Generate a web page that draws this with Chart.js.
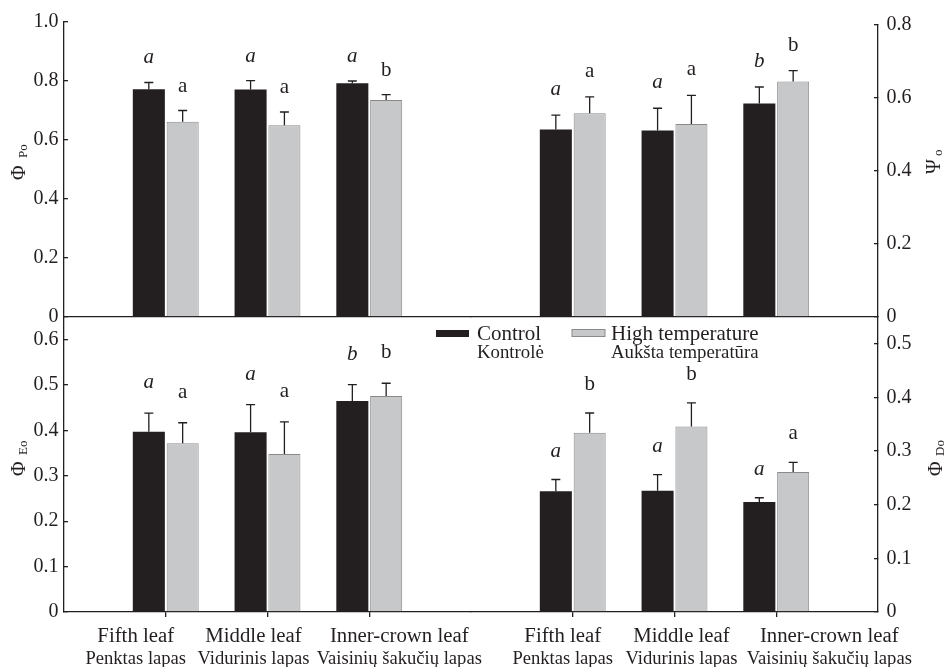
<!DOCTYPE html>
<html>
<head>
<meta charset="utf-8">
<script src="https://cdn.jsdelivr.net/npm/chart.js@4.4.1/dist/chart.umd.min.js"></script>
<style>
  body { margin: 0; background: #fff; }
  #wrap { position: relative; width: 947px; height: 667px; }
  #wrap canvas { position: absolute; left: 0; top: 0; }
</style>
</head>
<body>
<div id="wrap">
  <canvas id="cTL" width="947" height="667"></canvas>
  <canvas id="cTR" width="947" height="667"></canvas>
  <canvas id="cBL" width="947" height="667"></canvas>
  <canvas id="cBR" width="947" height="667"></canvas>
</div>
<script>
const categories = ['Fifth leaf', 'Middle leaf', 'Inner-crown leaf'];
const categoriesLt = ['Penktas lapas', 'Vidurinis lapas', 'Vaisinių šakučių lapas'];
const seriesNames = ['Control', 'High temperature'];
const seriesNamesLt = ['Kontrolė', 'Aukšta temperatūra'];

// Φ Po
const phiPoControl = [0.772, 0.771, 0.792];
const phiPoControlSd = [0.023, 0.030, 0.008];
const phiPoHeat = [0.662, 0.650, 0.736];
const phiPoHeatSd = [0.038, 0.045, 0.018];
const phiPoLetters = [['a', 'a', 'a'], ['a', 'a', 'b']];
const phiPoTicks = [0, 0.2, 0.4, 0.6, 0.8, 1.0];

// Ψo
const psiControl = [0.513, 0.510, 0.584];
const psiControlSd = [0.039, 0.061, 0.045];
const psiHeat = [0.557, 0.528, 0.644];
const psiHeatSd = [0.045, 0.078, 0.030];
const psiLetters = [['a', 'a', 'b'], ['a', 'a', 'b']];
const psiTicks = [0, 0.2, 0.4, 0.6, 0.8];

// Φ Eo
const phiEoControl = [0.397, 0.396, 0.465];
const phiEoControlSd = [0.041, 0.061, 0.036];
const phiEoHeat = [0.372, 0.348, 0.476];
const phiEoHeatSd = [0.045, 0.071, 0.028];
const phiEoLetters = [['a', 'a', 'b'], ['a', 'a', 'b']];
const phiEoTicks = [0, 0.1, 0.2, 0.3, 0.4, 0.5, 0.6];

// Φ Do
const phiDoControl = [0.225, 0.226, 0.205];
const phiDoControlSd = [0.022, 0.030, 0.008];
const phiDoHeat = [0.334, 0.346, 0.261];
const phiDoHeatSd = [0.037, 0.044, 0.018];
const phiDoLetters = [['a', 'a', 'a'], ['b', 'b', 'a']];
const phiDoTicks = [0, 0.1, 0.2, 0.3, 0.4, 0.5];

const W = 947, H = 667;
const AXIS_W = 50;
const SERIF = '"Liberation Serif", "Times New Roman", serif';
const INK = '#231f20';
const GREY = '#c7c8ca';
const GREY_EDGE = '#8a8a8a';

const panels = [
  { id: 'cTL', area: [64, 22, 471, 317], side: 'left', max: 1.0, ticks: phiPoTicks,
    values: [phiPoControl, phiPoHeat], sd: [phiPoControlSd, phiPoHeatSd], letters: phiPoLetters,
    title: ['Φ', 'Po'], titleX: 20, titleY: 180, subY: 158, letterGap: 19, bottom: false },
  { id: 'cTR', area: [471, 24, 878, 317], side: 'right', max: 0.8, ticks: psiTicks,
    values: [psiControl, psiHeat], sd: [psiControlSd, psiHeatSd], letters: psiLetters,
    title: ['Ψ', 'o'], titleX: 935, titleY: 174, subY: 156, letterGap: 20, bottom: false },
  { id: 'cBL', area: [64, 317, 471, 612], side: 'left', max: 0.65, ticks: phiEoTicks,
    values: [phiEoControl, phiEoHeat], sd: [phiEoControlSd, phiEoHeatSd], letters: phiEoLetters,
    title: ['Φ', 'Eo'], titleX: 20, titleY: 476, subY: 455, letterGap: 25, bottom: true,
    labelShift: [-30, -14, 30] },
  { id: 'cBR', area: [471, 317, 878, 612], side: 'right', max: 0.55, ticks: phiDoTicks,
    values: [phiDoControl, phiDoHeat], sd: [phiDoControlSd, phiDoHeatSd], letters: phiDoLetters,
    title: ['Φ', 'Do'], titleX: 937, titleY: 476, subY: 456, letterGap: 23, bottom: true,
    labelShift: [-10, 7, 53], legend: true }
];

const pad = arr => [null, ...arr, null];

const decor = {
  id: 'decor',
  afterDatasetsDraw(chart) {
    const p = chart.options.plugins.decor;
    const ctx = chart.ctx;
    const y = chart.scales.y;
    ctx.save();
    chart.data.datasets.forEach((ds, di) => {
      chart.getDatasetMeta(di).data.forEach((bar, i) => {
        const v = ds.data[i];
        if (v == null) return;
        const top = y.getPixelForValue(v + ds.sd[i]);
        ctx.strokeStyle = INK;
        ctx.lineWidth = 1.3;
        ctx.beginPath();
        ctx.moveTo(bar.x, bar.y);
        ctx.lineTo(bar.x, top);
        ctx.moveTo(bar.x - 4.5, top);
        ctx.lineTo(bar.x + 4.5, top);
        ctx.stroke();
        ctx.fillStyle = INK;
        ctx.font = (di === 0 ? 'italic ' : '') + '21px ' + SERIF;
        ctx.textAlign = 'center';
        ctx.textBaseline = 'alphabetic';
        ctx.fillText(ds.letters[i], bar.x, top - p.letterGap);
      });
    });
    ctx.restore();
  },
  afterDraw(chart) {
    const p = chart.options.plugins.decor;
    const ctx = chart.ctx;
    ctx.save();
    ctx.fillStyle = INK;

    // rotated axis title with subscript
    ctx.translate(p.titleX, 0);
    ctx.rotate(-Math.PI / 2);
    ctx.textAlign = 'left';
    ctx.textBaseline = 'middle';
    ctx.font = '20px ' + SERIF;
    ctx.fillText(p.title[0], -p.titleY, 0);
    ctx.font = '13px ' + SERIF;
    ctx.fillText(p.title[1], -p.subY, 4);
    ctx.setTransform(1, 0, 0, 1, 0, 0);

    if (p.bottom) {
      const x = chart.scales.x;
      ctx.textAlign = 'center';
      ctx.textBaseline = 'alphabetic';
      categories.forEach((c, i) => {
        const px = x.getPixelForValue(i + 1) + p.labelShift[i];
        ctx.font = '20.8px ' + SERIF;
        ctx.fillText(c, px, 641.5);
        ctx.font = '18.6px ' + SERIF;
        ctx.fillText(categoriesLt[i], px, 663.5);
      });
    }

    if (p.legend) {
      ctx.fillStyle = INK;
      ctx.fillRect(436, 330, 33, 7);
      ctx.fillStyle = GREY;
      ctx.fillRect(572, 329.5, 33, 7);
      ctx.strokeStyle = GREY_EDGE;
      ctx.lineWidth = 1;
      ctx.strokeRect(572, 329.5, 33, 7);
      ctx.fillStyle = INK;
      ctx.textAlign = 'left';
      ctx.textBaseline = 'alphabetic';
      ctx.font = '21px ' + SERIF;
      ctx.fillText(seriesNames[0], 477, 340);
      ctx.fillText(seriesNames[1], 611, 340);
      ctx.font = '18.8px ' + SERIF;
      ctx.fillText(seriesNamesLt[0], 477, 358);
      ctx.fillText(seriesNamesLt[1], 611, 358);
    }
    ctx.restore();
  }
};

function makePanel(p) {
  const [left, top, right, bottom] = p.area;
  const colors = [INK, GREY];
  const padLeft = p.side === 'left' ? left - AXIS_W : left;
  const padRight = p.side === 'right' ? W - right - AXIS_W : W - right;
  return new Chart(document.getElementById(p.id), {
    type: 'bar',
    data: {
      labels: ['', ...categories, ''],
      datasets: seriesNames.map((name, k) => ({
        label: name,
        data: pad(p.values[k]),
        sd: pad(p.sd[k]),
        letters: pad(p.letters[k]),
        backgroundColor: colors[k],
        borderColor: k === 0 ? INK : GREY_EDGE,
        borderWidth: k === 0 ? 0 : 1,
        categoryPercentage: 0.665,
        barPercentage: 0.947
      }))
    },
    options: {
      responsive: false,
      animation: false,
      devicePixelRatio: 1,
      layout: { padding: { left: padLeft, top, right: padRight, bottom: H - bottom } },
      plugins: {
        legend: { display: false },
        tooltip: { enabled: false },
        decor: p
      },
      scales: {
        x: {
          type: 'category',
          offset: false,
          ticks: { display: false },
          border: { color: INK, width: 1.3 },
          grid: {
            offset: false,
            drawOnChartArea: false,
            drawTicks: p.bottom,
            tickLength: 5,
            lineWidth: 1.3,
            color: c => (c.index === 0 || c.index === 4) ? 'rgba(0,0,0,0)' : INK
          },
          afterFit: s => { s.height = 0; }
        },
        y: {
          position: p.side,
          min: 0,
          max: p.max,
          afterBuildTicks: s => { s.ticks = p.ticks.map(v => ({ value: v })); },
          ticks: {
            font: { family: SERIF, size: 20 },
            color: INK,
            padding: p.side === 'left' ? 9.5 : 12.5,
            callback: v => v === 0 ? '0' : v.toFixed(1)
          },
          border: { color: INK, width: 1.3 },
          grid: { drawOnChartArea: false, tickLength: -4, lineWidth: 1.3, color: INK },
          afterFit: s => { s.width = AXIS_W; }
        }
      }
    },
    plugins: [decor]
  });
}

panels.forEach(makePanel);
</script>
</body>
</html>
